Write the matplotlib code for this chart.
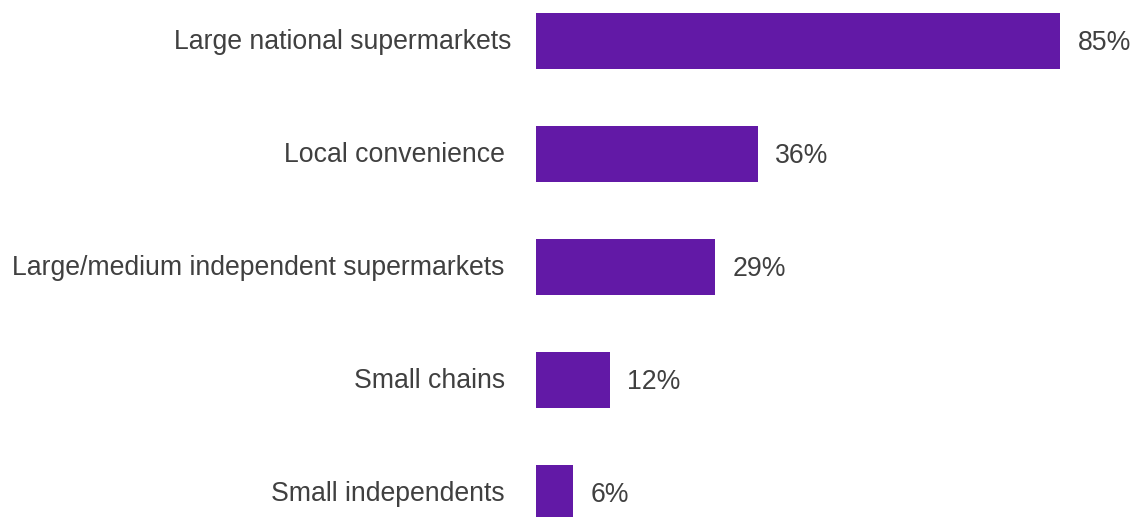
import matplotlib
matplotlib.use("Agg")
import matplotlib.pyplot as plt

categories = [
    "Large national supermarkets",
    "Local convenience",
    "Large/medium independent supermarkets",
    "Small chains",
    "Small independents",
]
values = [85, 36, 29, 12, 6]

bar_color = "#6219A6"
text_color = "#404040"

plt.rcParams["font.family"] = ["Liberation Sans", "DejaVu Sans"]

fig = plt.figure(figsize=(11.36, 5.17), dpi=100)
ax = fig.add_axes([536 / 1136, 0, 600 / 1136, 1])

pos = list(range(len(categories)))
ax.barh(pos, values, height=0.5, color=bar_color)

ax.set_xlim(0, 600 / 6.165)
ax.set_ylim(4 + 24 / 113, -41 / 113)

for p, v, c in zip(pos, values, categories):
    ax.annotate(f"{v}%", (v, p), xytext=(12.5, -1.5), textcoords="offset points",
                ha="left", va="center", fontsize=19.2, color=text_color)
    # the top label sits a little closer to its bar
    gap = -17.5 if p == 0 else -22.5
    ax.annotate(c, (0, p), xytext=(gap, -1), textcoords="offset points",
                ha="right", va="center", fontsize=19.2, color=text_color,
                annotation_clip=False)

ax.axis("off")
fig.savefig("out.png", dpi=100)
